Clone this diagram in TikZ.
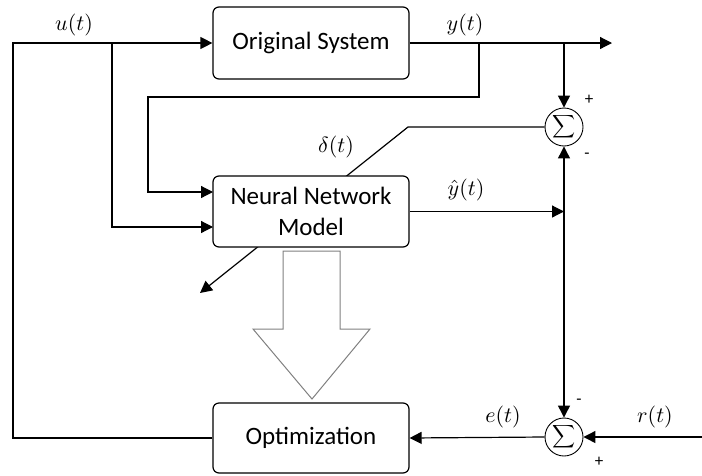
\documentclass[tikz,border=0pt]{standalone}
\usepackage{fontspec}
\setmainfont{Carlito}
\usetikzlibrary{arrows.meta}
\begin{document}
\begin{tikzpicture}[x=1pt,y=-1pt,line width=1.2pt,
  >={Triangle[length=12pt,width=12pt]},
  blockbox/.style={draw,rounded corners=6pt,fill=white,minimum width=196pt,align=center,inner sep=0pt,font=\fontsize{25}{31}\selectfont},
  sumnode/.style={draw,circle,line width=0.9pt,minimum size=38pt,inner sep=0pt,fill=white},
  sumsym/.style={inner sep=0pt,scale=1.6},
  mlabel/.style={scale=2.2},
  sign/.style={font=\fontsize{17}{20}\selectfont}]
\useasboundingbox (0,0) rectangle (702,475);
% coordinates
\coordinate (uL) at (13,43);
\coordinate (uB) at (112,43);
\coordinate (nnA) at (213,192);
\coordinate (nnB) at (213,227);
\coordinate (yB1) at (479,43);
\coordinate (fbC) at (148,97);
\coordinate (yB2) at (564,43);
\coordinate (yEnd) at (612,43);
\coordinate (dK) at (408,127);
\coordinate (dEnd) at (200,293);
\coordinate (yhJ) at (564,211.5);
\coordinate (rIn) at (702,437);
% sums
\node[sumnode] (s1) at (564,127) {};
\node[sumnode] (s2) at (564,437) {};
\node[sumsym] (s1t) at (s1.center) {$\displaystyle\sum$};
\node[sumsym] (s2t) at (s2.center) {$\displaystyle\sum$};
% delta arrow (behind the NN box)
\draw[->] (s1.west) -- (dK) -- (dEnd);
% blocks
\node[blockbox,minimum height=72pt] (orig) at (311,43) {Original System};
\node[blockbox,minimum height=71pt] (nn) at (311,211.5) {Neural Network\\Model};
\node[blockbox,minimum height=70pt] (opt) at (311,438) {Optimization};
% hollow arrow
\draw[gray,line width=1pt,fill=white,line join=miter] (283,251) -- (340,251) -- (340,329) -- (370,329) -- (312,399) -- (253,329) -- (283,329) -- cycle;
% u(t)
\draw[->] (opt.west) -| (uL) -- (orig.west);
\draw[->] (uB) |- (nnB);
% y(t)
\draw[->] (orig.east) -- (yEnd);
\draw[->] (yB1) |- (fbC) |- (nnA);
\draw[->] (yB2) -- (s1.north);
% yhat
\draw[->] (nn.east) -- (yhJ);
\draw[->] (yhJ) -- (s1.south);
\draw[->] (yhJ) -- (s2.north);
% r and e
\draw[->] (rIn) -- (s2.east);
\draw[->] (s2.west) -- (opt.east);
% labels
\node[mlabel] (lu) at (74,25) {$u(t)$};
\node[mlabel] (ly) at (465,25) {$y(t)$};
\node[mlabel] (ld) at (336,147) {$\delta(t)$};
\node[mlabel] (lyh) at (466,190) {$\hat{y}(t)$};
\node[mlabel] (le) at (503,417) {$e(t)$};
\node[mlabel] (lr) at (655,417) {$r(t)$};
\node[sign] (p1) at (589,100) {+};
\node[sign] (m1) at (587,156) {-};
\node[sign] (m2) at (579,402) {-};
\node[sign] (p2) at (599,462) {+};
\end{tikzpicture}
\end{document}
